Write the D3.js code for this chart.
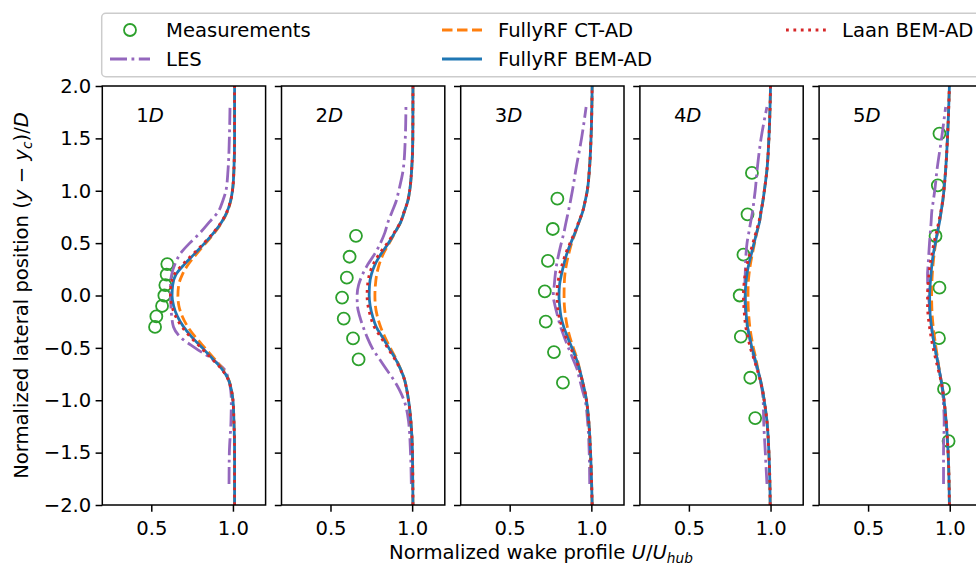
<!DOCTYPE html>
<html>
<head>
<meta charset="utf-8">
<script src="https://cdn.jsdelivr.net/npm/d3@7"></script>
<style>
  html, body { margin: 0; padding: 0; background: #fff; }
  svg { display: block; font-family: "DejaVu Sans", sans-serif; }
</style>
</head>
<body>
<svg id="chart" width="976" height="565"></svg>
<script>
// Downstream stations (x/D) shown one per panel
const stations = ["1", "2", "3", "4", "5"];

// Lateral positions (y - yc)/D of the simulated profiles
const profileY = [-2.0, -1.5, -1.2, -1.0, -0.9, -0.8, -0.7, -0.6, -0.5, -0.4, -0.3, -0.2, -0.1, 0.0,
                  0.1, 0.2, 0.3, 0.4, 0.5, 0.6, 0.7, 0.8, 0.9, 1.0, 1.2, 1.5, 2.0];
// LES profiles cover a slightly shorter lateral range
const lesY = [-1.8, -1.5, -1.2, -1.0, -0.9, -0.8, -0.7, -0.6, -0.5, -0.4, -0.3, -0.2, -0.1, 0.0,
              0.1, 0.2, 0.3, 0.4, 0.5, 0.6, 0.7, 0.8, 0.9, 1.0, 1.2, 1.5, 1.8];

// FullyRF BEM-AD, U/Uhub per station
const bemAD = [
  [1.01, 1.01, 1.006, 1.0, 0.99, 0.972, 0.932, 0.873, 0.813, 0.75, 0.698, 0.66, 0.637, 0.627, 0.631, 0.651, 0.704, 0.766, 0.827, 0.883, 0.93, 0.964, 0.985, 0.997, 1.006, 1.01, 1.01],
  [1.005, 1.002, 0.992, 0.978, 0.967, 0.953, 0.928, 0.896, 0.857, 0.819, 0.78, 0.758, 0.743, 0.737, 0.739, 0.75, 0.774, 0.811, 0.855, 0.893, 0.93, 0.952, 0.973, 0.985, 0.997, 1.004, 1.005],
  [1.005, 0.995, 0.984, 0.97, 0.958, 0.943, 0.927, 0.907, 0.881, 0.855, 0.831, 0.814, 0.806, 0.802, 0.805, 0.817, 0.832, 0.85, 0.874, 0.9, 0.924, 0.947, 0.962, 0.975, 0.988, 0.998, 1.005],
  [0.998, 0.99, 0.978, 0.961, 0.951, 0.937, 0.921, 0.904, 0.886, 0.873, 0.859, 0.852, 0.847, 0.845, 0.848, 0.855, 0.867, 0.883, 0.899, 0.915, 0.932, 0.942, 0.953, 0.962, 0.978, 0.99, 1.0],
  [0.998, 0.99, 0.978, 0.965, 0.957, 0.946, 0.934, 0.922, 0.909, 0.898, 0.888, 0.881, 0.877, 0.877, 0.88, 0.885, 0.891, 0.9, 0.912, 0.924, 0.937, 0.947, 0.957, 0.964, 0.975, 0.986, 0.998]
];

// FullyRF CT-AD
const ctAD = [
  [1.01, 1.01, 1.006, 1.0, 0.99, 0.973, 0.936, 0.884, 0.828, 0.772, 0.724, 0.69, 0.669, 0.663, 0.668, 0.69, 0.728, 0.779, 0.834, 0.888, 0.933, 0.966, 0.986, 0.997, 1.006, 1.01, 1.01],
  [1.005, 1.002, 0.992, 0.978, 0.967, 0.953, 0.929, 0.9, 0.866, 0.834, 0.807, 0.787, 0.775, 0.772, 0.775, 0.783, 0.799, 0.824, 0.86, 0.895, 0.93, 0.952, 0.973, 0.985, 0.997, 1.004, 1.005],
  [1.005, 0.995, 0.984, 0.97, 0.958, 0.943, 0.928, 0.912, 0.89, 0.869, 0.853, 0.842, 0.835, 0.833, 0.834, 0.838, 0.848, 0.862, 0.879, 0.902, 0.924, 0.947, 0.962, 0.975, 0.988, 0.998, 1.005],
  [0.998, 0.99, 0.978, 0.961, 0.951, 0.937, 0.922, 0.91, 0.895, 0.883, 0.873, 0.867, 0.863, 0.862, 0.863, 0.868, 0.877, 0.889, 0.902, 0.916, 0.932, 0.942, 0.953, 0.962, 0.978, 0.99, 1.0],
  [0.998, 0.99, 0.978, 0.965, 0.957, 0.946, 0.935, 0.926, 0.916, 0.907, 0.899, 0.893, 0.89, 0.889, 0.89, 0.893, 0.898, 0.905, 0.914, 0.925, 0.937, 0.947, 0.957, 0.964, 0.975, 0.986, 0.998]
];

// Laan BEM-AD
const laanBEM = [
  [1.01, 1.01, 1.006, 1.0, 0.99, 0.97, 0.929, 0.868, 0.806, 0.742, 0.688, 0.649, 0.626, 0.617, 0.621, 0.641, 0.694, 0.758, 0.822, 0.88, 0.928, 0.963, 0.985, 0.997, 1.006, 1.01, 1.01],
  [1.005, 1.002, 0.992, 0.978, 0.967, 0.952, 0.926, 0.891, 0.85, 0.809, 0.768, 0.745, 0.73, 0.724, 0.727, 0.738, 0.762, 0.8, 0.848, 0.89, 0.928, 0.951, 0.973, 0.985, 0.997, 1.004, 1.005],
  [1.005, 0.995, 0.984, 0.97, 0.958, 0.942, 0.925, 0.902, 0.873, 0.845, 0.82, 0.802, 0.793, 0.79, 0.793, 0.805, 0.822, 0.843, 0.869, 0.897, 0.922, 0.946, 0.962, 0.975, 0.988, 0.998, 1.005],
  [0.998, 0.99, 0.978, 0.961, 0.95, 0.935, 0.917, 0.897, 0.876, 0.862, 0.848, 0.841, 0.836, 0.834, 0.837, 0.844, 0.857, 0.874, 0.892, 0.91, 0.928, 0.941, 0.953, 0.962, 0.978, 0.99, 1.0],
  [0.998, 0.99, 0.978, 0.965, 0.956, 0.944, 0.928, 0.913, 0.898, 0.886, 0.876, 0.868, 0.864, 0.864, 0.867, 0.873, 0.88, 0.891, 0.903, 0.918, 0.932, 0.945, 0.956, 0.964, 0.975, 0.986, 0.998]
];

// LES reference profiles (on lesY)
const les = [
  [0.976, 0.978, 0.988, 0.99, 0.986, 0.973, 0.945, 0.866, 0.768, 0.68, 0.636, 0.625, 0.62, 0.618, 0.618, 0.625, 0.645, 0.678, 0.735, 0.80, 0.855, 0.91, 0.937, 0.957, 0.97, 0.978, 0.982],
  [0.995, 0.99, 0.978, 0.95, 0.922, 0.885, 0.84, 0.797, 0.755, 0.725, 0.70, 0.679, 0.665, 0.663, 0.672, 0.696, 0.73, 0.772, 0.806, 0.833, 0.852, 0.877, 0.902, 0.918, 0.945, 0.958, 0.962],
  [0.99, 0.987, 0.977, 0.962, 0.945, 0.928, 0.912, 0.886, 0.86, 0.835, 0.812, 0.794, 0.778, 0.767, 0.773, 0.779, 0.788, 0.801, 0.816, 0.832, 0.845, 0.859, 0.872, 0.884, 0.905, 0.94, 0.968],
  [0.978, 0.968, 0.958, 0.955, 0.948, 0.935, 0.918, 0.9, 0.884, 0.871, 0.858, 0.85, 0.845, 0.843, 0.843, 0.845, 0.847, 0.85, 0.856, 0.867, 0.878, 0.89, 0.898, 0.906, 0.918, 0.942, 0.978],
  [0.962, 0.962, 0.966, 0.96, 0.955, 0.946, 0.934, 0.922, 0.909, 0.898, 0.889, 0.882, 0.876, 0.87, 0.865, 0.864, 0.868, 0.872, 0.876, 0.881, 0.886, 0.89, 0.899, 0.908, 0.922, 0.95, 0.975]
];

// Measurements: lateral positions and U/Uhub per station
const measY = [
  [0.30, 0.20, 0.10, 0.00, -0.10, -0.20, -0.30],
  [0.57, 0.37, 0.17, -0.02, -0.22, -0.41, -0.61],
  [0.924, 0.635, 0.33, 0.04, -0.25, -0.54, -0.832],
  [1.17, 0.775, 0.39, 0.0, -0.393, -0.785, -1.17],
  [1.546, 1.052, 0.568, 0.075, -0.407, -0.892, -1.39]
];
const measU = [
  [0.598, 0.594, 0.586, 0.58, 0.566, 0.531, 0.523],
  [0.656, 0.617, 0.60, 0.571, 0.581, 0.638, 0.672],
  [0.792, 0.764, 0.734, 0.715, 0.721, 0.771, 0.826],
  [0.886, 0.859, 0.834, 0.811, 0.818, 0.876, 0.906],
  [0.937, 0.927, 0.913, 0.937, 0.934, 0.965, 0.993]
];

const xTicks = [0.5, 1.0];
const yTicks = [-2.0, -1.5, -1.0, -0.5, 0.0, 0.5, 1.0, 1.5, 2.0];

const seriesNames = ["Measurements", "LES", "FullyRF CT-AD", "FullyRF BEM-AD", "Laan BEM-AD"];

// ---- styling / layout ----
const FONT = 19.6;
const SUB = 13.7;
const C = { meas: "#2ca02c", les: "#9467bd", ct: "#ff7f0e", bem: "#1f77b4", laan: "#d62728" };
const LW = 2.8;
const DASH = { les: "17,4.5,2.8,4.5", ct: "10.5,4.5", laan: "2.8,4.6" };

const svg = d3.select("#chart");
svg.append("rect").attr("width", 976).attr("height", 565).attr("fill", "#fff");

const plotTop = 86, plotBottom = 505;
const panelW = 163.3, panelStep = 179.2, firstLeft = 102.3;

const x = d3.scaleLinear().domain([0.2, 1.2]).range([0, panelW]);
const y = d3.scaleLinear().domain([-2, 2]).range([plotBottom, plotTop]);

const line = d3.line()
  .x(d => x(d[1]))
  .y(d => y(d[0]))
  .curve(d3.curveMonotoneY);

const fmt = d3.format(".1f");

stations.forEach((st, i) => {
  const g = svg.append("g").attr("transform", `translate(${firstLeft + i * panelStep},0)`);

  // measurements
  g.append("g").selectAll("circle")
    .data(measY[i].map((yy, k) => [yy, measU[i][k]]))
    .join("circle")
    .attr("cx", d => x(d[1]))
    .attr("cy", d => y(d[0]))
    .attr("r", 6)
    .attr("fill", "none")
    .attr("stroke", C.meas)
    .attr("stroke-width", 1.8);

  const draw = (ys, vals, color, dash) => {
    g.append("path")
      .datum(ys.map((yy, k) => [yy, vals[k]]))
      .attr("d", line)
      .attr("fill", "none")
      .attr("stroke", color)
      .attr("stroke-width", LW)
      .attr("stroke-dasharray", dash)
      .attr("stroke-linecap", "butt");
  };
  draw(lesY, les[i], C.les, DASH.les);
  draw(profileY, ctAD[i], C.ct, DASH.ct);
  draw(profileY, bemAD[i], C.bem, null);
  draw(profileY, laanBEM[i], C.laan, DASH.laan);

  // axes
  const xa = g.append("g").attr("transform", `translate(0,${plotBottom})`)
    .call(d3.axisBottom(x).tickValues(xTicks).tickFormat(fmt).tickSize(6.7).tickSizeOuter(0).tickPadding(9.3));
  const ya = g.append("g")
    .call(d3.axisLeft(y).tickValues(yTicks).tickFormat(i === 0 ? fmt : () => "")
      .tickSize(6.7).tickSizeOuter(0).tickPadding(4.3));
  [xa, ya].forEach(a => {
    a.select(".domain").remove();
    a.selectAll("line").attr("stroke", "#000").attr("stroke-width", 1.5);
    a.selectAll("text").attr("fill", "#000").style("font-size", FONT + "px")
      .style("font-family", "'DejaVu Sans', sans-serif");
  });

  // frame
  g.append("rect")
    .attr("x", 0).attr("y", plotTop)
    .attr("width", panelW).attr("height", plotBottom - plotTop)
    .attr("fill", "none").attr("stroke", "#000").attr("stroke-width", 1.5);

  // station label, e.g. "1D"
  const lab = g.append("text").attr("x", 34).attr("y", 121.5)
    .style("font-size", FONT + "px");
  lab.append("tspan").text(st);
  lab.append("tspan").attr("font-style", "italic").text("D");
});

// axis titles
const xl = svg.append("text").attr("x", 541).attr("y", 559)
  .attr("text-anchor", "middle").style("font-size", FONT + "px");
xl.append("tspan").text("Normalized wake profile ");
xl.append("tspan").attr("font-style", "italic").text("U");
xl.append("tspan").text("/");
xl.append("tspan").attr("font-style", "italic").text("U");
xl.append("tspan").attr("font-style", "italic").attr("dy", 4).style("font-size", SUB + "px").text("hub");

const yl = svg.append("text").attr("transform", "translate(28.3,295.5) rotate(-90)")
  .attr("text-anchor", "middle").style("font-size", FONT + "px");
yl.append("tspan").text("Normalized lateral position (");
yl.append("tspan").attr("font-style", "italic").text("y");
yl.append("tspan").text(" \u2212 ");
yl.append("tspan").attr("font-style", "italic").text("y");
yl.append("tspan").attr("font-style", "italic").attr("dy", 4).style("font-size", SUB + "px").text("c");
yl.append("tspan").attr("dy", -4).text(")/");
yl.append("tspan").attr("font-style", "italic").text("D");

// legend
const leg = svg.append("g");
leg.append("rect")
  .attr("x", 101.7).attr("y", 13.3).attr("width", 884).attr("height", 63.4)
  .attr("rx", 4).attr("fill", "#fff").attr("fill-opacity", 0.8)
  .attr("stroke", "#cccccc").attr("stroke-width", 1.5);

const legCols = [110, 442, 786];
const legRows = [30, 59];
const legendItems = [
  { col: 0, row: 0, kind: "marker", color: C.meas },
  { col: 0, row: 1, kind: "line", color: C.les, dash: DASH.les },
  { col: 1, row: 0, kind: "line", color: C.ct, dash: DASH.ct },
  { col: 1, row: 1, kind: "line", color: C.bem, dash: null },
  { col: 2, row: 0, kind: "line", color: C.laan, dash: DASH.laan }
];
legendItems.forEach((it, k) => {
  const hx = legCols[it.col], hy = legRows[it.row];
  if (it.kind === "marker") {
    leg.append("circle").attr("cx", hx + 20).attr("cy", hy).attr("r", 6)
      .attr("fill", "none").attr("stroke", it.color).attr("stroke-width", 1.8);
  } else {
    leg.append("line").attr("x1", hx).attr("x2", hx + 40).attr("y1", hy).attr("y2", hy)
      .attr("stroke", it.color).attr("stroke-width", LW).attr("stroke-dasharray", it.dash);
  }
  leg.append("text").attr("x", hx + 56).attr("y", hy + 7)
    .style("font-size", FONT + "px").text(seriesNames[k]);
});
</script>
</body>
</html>
